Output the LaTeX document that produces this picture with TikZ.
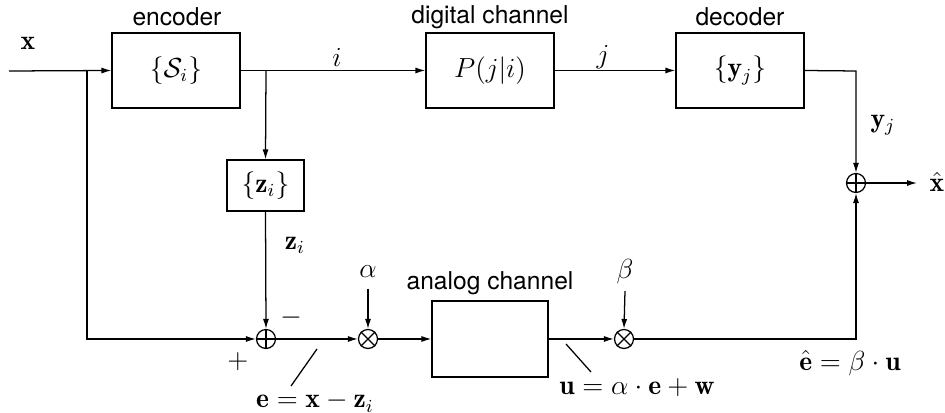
\documentclass[tikz,border=0pt]{standalone}
\usepackage{fontspec}
\setsansfont{TeX Gyre Heros}
\usetikzlibrary{arrows.meta}
\begin{document}
\begin{tikzpicture}[x=0.435pt,y=-0.435pt,
  line width=0.55pt,
  font=\fontsize{12}{14}\selectfont,
  arr/.style={-{Latex[length=4.3pt,width=2.6pt]}},
  blockbox/.style={draw,rectangle,minimum width=#1*0.435pt,inner sep=0pt},
  lab/.style={font=\sffamily\fontsize{10.7}{12}\selectfont,inner sep=0pt},
  opnode/.style={draw,circle,minimum size=19*0.435pt,inner sep=0pt}]
\useasboundingbox (0,0) rectangle (945,413);
% blocks
\node[blockbox=128,minimum height=75*0.435pt] (enc) at (176,70.5) {$\{\mathcal{S}_i\}$};
\node[blockbox=128,minimum height=75*0.435pt] (dig) at (490,70.5) {$P(j|i)$};
\node[blockbox=128,minimum height=75*0.435pt] (dec) at (740,70.5) {$\{\mathbf{y}_j\}$};
\node[blockbox=77,minimum height=51*0.435pt] (zb) at (265.5,185.5) {$\{\mathbf{z}_i\}$};
\node[blockbox=116,minimum height=76*0.435pt] (ana) at (490,339) {};
% block titles
\node[lab] (tenc) at (177,17) {encoder};
\node[lab] (tdig) at (490,17) {digital channel};
\node[lab] (tdec) at (740,17) {decoder};
\node[lab] (tana) at (490,283) {analog channel};
% operators
\node[opnode] (s1) at (266,339) {};
\draw (s1.north) -- (s1.south) (s1.west) -- (s1.east);
\node[opnode] (m1) at (368,339) {};
\draw (m1.north east) -- (m1.south west) (m1.north west) -- (m1.south east);
\node[opnode] (m2) at (624,339) {};
\draw (m2.north east) -- (m2.south west) (m2.north west) -- (m2.south east);
\node[opnode] (s2) at (856,183) {};
\draw (s2.north) -- (s2.south) (s2.west) -- (s2.east);
% coordinates
\coordinate (in) at (9,71);
\coordinate (b1) at (87,71);
\coordinate (b1d) at (87,339);
\coordinate (b2) at (266,71);
\coordinate (rc1) at (856,71);
\coordinate (rc2) at (856,339);
\coordinate (out) at (917,183);
% connectors
\draw[arr] (in) -- (enc.west);
\draw[arr] (b1) -- (b1d) -- (s1.west);
\draw[arr] (enc.east) -- (dig.west);
\draw[arr] (b2) -- (zb.north);
\draw[arr] (zb.south) -- (s1.north);
\draw[arr] (dig.east) -- (dec.west);
\draw[arr] (dec.east) -- (rc1) -- (s2.north);
\draw[arr] (s1.east) -- (m1.west);
\draw[arr] (m1.east) -- (ana.west);
\draw[arr] (ana.east) -- (m2.west);
\draw[arr] (m2.east) -- (rc2) -- (s2.south);
\draw[arr] (s2.east) -- (out);
% alpha, beta
\node[inner sep=1pt] (al) at (368,272) {$\alpha$};
\node[inner sep=1pt] (be) at (625,272) {$\beta$};
\draw[arr] (al.south) ++(0,8) -- (m1.north);
\draw[arr] (be.south) ++(0,4) -- (m2.north);
% signal labels
\node (lx) at (28,43) {$\mathbf{x}$};
\node (li) at (337,57) {$i$};
\node (lj) at (603,57) {$j$};
\node (lyj) at (883,125) {$\mathbf{y}_j$};
\node (lxh) at (937,182) {$\hat{\mathbf{x}}$};
\node (lzi) at (295,245) {$\mathbf{z}_i$};
\node (lminus) at (291,318) {$-$};
\node (lplus) at (238,362) {$+$};
\coordinate (ea) at (317,349);
\coordinate (eb) at (291,386);
\draw (ea) -- (eb);
\node (le) at (315,402) {$\mathbf{e}=\mathbf{x}-\mathbf{z}_i$};
\coordinate (ua) at (566,344);
\coordinate (ub) at (591,372);
\draw (ua) -- (ub);
\node (lu) at (637,388) {$\mathbf{u}=\alpha\cdot\mathbf{e}+\mathbf{w}$};
\node (leh) at (850,363) {$\hat{\mathbf{e}}=\beta\cdot\mathbf{u}$};
\end{tikzpicture}
\end{document}
